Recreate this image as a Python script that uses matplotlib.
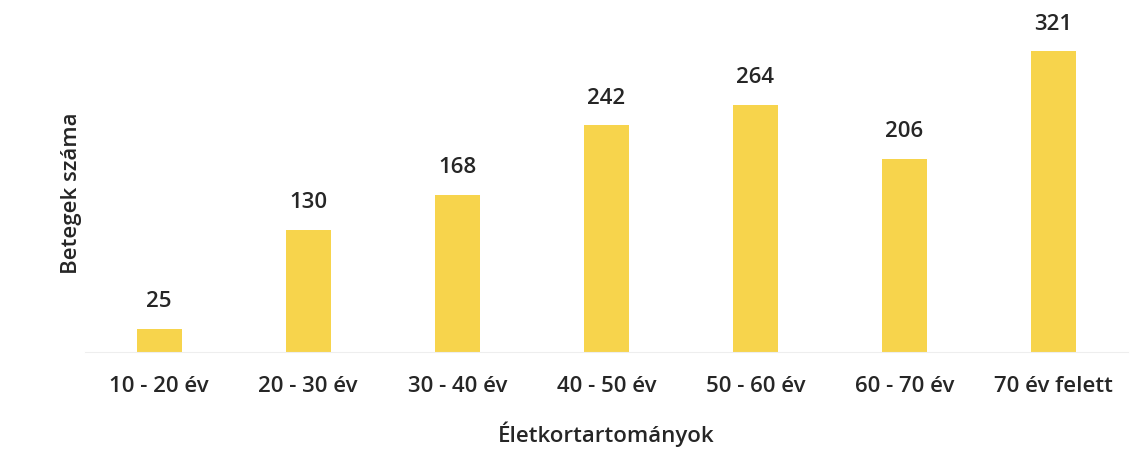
import matplotlib.pyplot as plt

# Data
age_groups = ['10 - 20 év', '20 - 30 év', '30 - 40 év', '40 - 50 év',
              '50 - 60 év', '60 - 70 év', '70 év felett']
patients = [25, 130, 168, 242, 264, 206, 321]

plt.rcParams['font.family'] = ['Open Sans', 'DejaVu Sans']

fig = plt.figure(figsize=(11.44, 4.68), dpi=100)
ax = fig.add_axes([0.074, 0.248, 0.912, 0.68])

x = range(len(age_groups))
bars = ax.bar(x, patients, width=0.3, color='#F7D44C')

for b, v in zip(bars, patients):
    ax.text(b.get_x() + b.get_width() / 2, v + 18, str(v),
            ha='center', va='bottom', fontsize=16, fontweight='semibold',
            color='#262626')

ax.set_xlim(-0.5, len(age_groups) - 0.5)
ax.set_ylim(0, 340)
ax.set_xticks(list(x))
ax.set_xticklabels(age_groups, fontsize=16, fontweight='semibold', color='#262626')
ax.tick_params(axis='x', length=0, pad=17)
ax.set_yticks([])

for side in ['top', 'right', 'left']:
    ax.spines[side].set_visible(False)
ax.spines['bottom'].set_color('#eeeeee')

ax.set_xlabel('Életkortartományok', fontsize=16, fontweight='semibold',
              color='#262626', labelpad=18)
ax.set_ylabel('Betegek száma', fontsize=16, fontweight='semibold',
              color='#262626', labelpad=2)

fig.savefig('out.png', dpi=100)
